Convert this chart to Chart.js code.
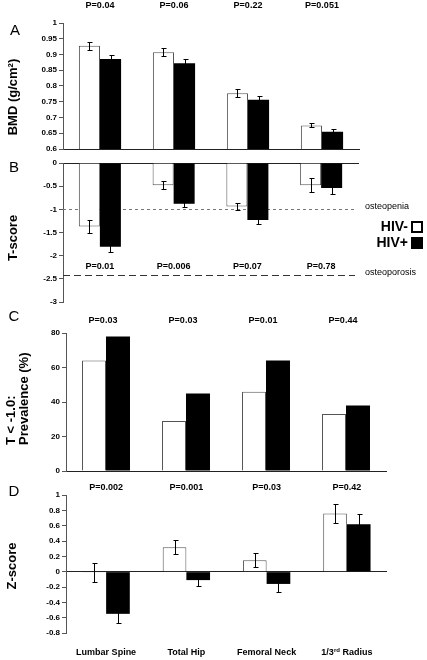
<!DOCTYPE html>
<html>
<head>
<meta charset="utf-8">
<script src="https://cdn.jsdelivr.net/npm/chart.js@4.4.1/dist/chart.umd.min.js"></script>
<style>
  html, body { margin: 0; padding: 0; background: #fff; }
  #wrap { position: relative; width: 427px; height: 660px; }
  #wrap canvas { position: absolute; left: 0; top: 0; }
</style>
</head>
<body>
<div id="wrap">
  <canvas id="chartA" width="427" height="660"></canvas>
  <canvas id="chartB" width="427" height="660"></canvas>
  <canvas id="chartC" width="427" height="660"></canvas>
  <canvas id="chartD" width="427" height="660"></canvas>
</div>
<script>
const categories = ['Lumbar Spine', 'Total Hip', 'Femoral Neck', '1/3rd Radius'];
const seriesNames = ['HIV-', 'HIV+'];

// A - BMD (g/cm2)
const bmdNeg = [0.928, 0.907, 0.777, 0.675];
const bmdPos = [0.886, 0.872, 0.756, 0.655];
const bmdNegErr = [0.013, 0.013, 0.012, 0.006];
const bmdPosErr = [0.012, 0.014, 0.012, 0.008];
const bmdP = ['P=0.04', 'P=0.06', 'P=0.22', 'P=0.051'];
const bmdTicks = [0.6, 0.65, 0.7, 0.75, 0.8, 0.85, 0.9, 0.95, 1];

// B - T-score
const tNeg = [-1.37, -0.48, -0.94, -0.48];
const tPos = [-1.81, -0.88, -1.23, -0.54];
const tNegErr = [0.13, 0.09, 0.07, 0.15];
const tPosErr = [0.12, 0.08, 0.08, 0.13];
const tP = ['P=0.01', 'P=0.006', 'P=0.07', 'P=0.78'];
const tTicks = [-3, -2.5, -2, -1.5, -1, -0.5, 0];
const refValues = [-1, -2.42];
const refNames = ['osteopenia', 'osteoporosis'];

// C - prevalence of T < -1.0
const prevNeg = [64, 29, 46, 33];
const prevPos = [78, 45, 64, 38];
const prevP = ['P=0.03', 'P=0.03', 'P=0.01', 'P=0.44'];
const prevTicks = [0, 20, 40, 60, 80];

// D - Z-score
const zNeg = [-0.01, 0.32, 0.15, 0.76];
const zPos = [-0.55, -0.11, -0.16, 0.62];
const zNegErr = [0.12, 0.09, 0.09, 0.12];
const zPosErr = [0.12, 0.08, 0.1, 0.13];
const zP = ['P=0.002', 'P=0.001', 'P=0.03', 'P=0.42'];
const zTicks = [-0.8, -0.6, -0.4, -0.2, 0, 0.2, 0.4, 0.6, 0.8, 1];

const FONT = '"Liberation Sans", Arial, sans-serif';

function rotText(ctx, text, x, y, align) {
  ctx.save();
  ctx.translate(x, y);
  ctx.rotate(-Math.PI / 2);
  ctx.textAlign = align;
  ctx.textBaseline = 'middle';
  ctx.fillText(text, 0, 0);
  ctx.restore();
}

// label text with ordinal suffix as superscript (1/3rd)
function supText(ctx, text, cx, y, size) {
  const m = text.match(/^(.*?\d)(st|nd|rd|th)(.*)$/);
  const parts = m ? [[m[1], 0], [m[2], 1], [m[3], 0]] : [[text, 0]];
  const fontFor = s => 'bold ' + (s ? Math.round(size * 0.65) : size) + 'px ' + FONT;
  let w = 0;
  parts.forEach(p => { ctx.font = fontFor(p[1]); w += ctx.measureText(p[0]).width; });
  let x = cx - w / 2;
  ctx.textAlign = 'left';
  ctx.textBaseline = 'middle';
  parts.forEach(p => {
    ctx.font = fontFor(p[1]);
    ctx.fillText(p[0], x, p[1] ? y - size * 0.35 : y);
    x += ctx.measureText(p[0]).width;
  });
}

const decor = {
  id: 'decor',
  beforeDatasetsDraw(chart, args, o) {
    const ctx = chart.ctx, ys = chart.scales.y, a = chart.chartArea;
    if (!o.refs) return;
    o.refs.forEach((v, i) => {
      const py = Math.round(ys.getPixelForValue(v)) + 0.5;
      ctx.save();
      ctx.strokeStyle = i === 0 ? '#777' : '#333';
      ctx.setLineDash(i === 0 ? [3, 3] : [7, 4]);
      ctx.lineWidth = 1;
      ctx.beginPath();
      ctx.moveTo(a.left, py);
      ctx.lineTo(a.right - 3, py);
      ctx.stroke();
      ctx.restore();
    });
  },
  afterDatasetsDraw(chart, args, o) {
    const ctx = chart.ctx, ys = chart.scales.y, xs = chart.scales.x;
    ctx.save();
    ctx.fillStyle = '#000';
    ctx.strokeStyle = '#000';
    ctx.lineWidth = 1;
    // error bars
    (o.errors || []).forEach((errs, di) => {
      const meta = chart.getDatasetMeta(di);
      meta.data.forEach((bar, i) => {
        const v = chart.data.datasets[di].data[i];
        const x = Math.round(bar.x) + 0.5;
        const hi = Math.round(ys.getPixelForValue(v + errs[i])) + 0.5;
        const lo = Math.round(ys.getPixelForValue(v - errs[i])) + 0.5;
        ctx.beginPath();
        ctx.moveTo(x, hi); ctx.lineTo(x, lo);
        ctx.moveTo(x - 2, hi); ctx.lineTo(x + 3, hi);
        ctx.moveTo(x - 2, lo); ctx.lineTo(x + 3, lo);
        ctx.stroke();
      });
    });
    // p values
    ctx.font = 'bold 9px ' + FONT;
    ctx.textAlign = 'center';
    ctx.textBaseline = 'middle';
    (o.pvals || []).forEach((p, i) => {
      ctx.fillText(p, xs.getPixelForValue(i) + (o.pdx || 0), o.pY);
    });
    // panel letter
    ctx.font = '15px ' + FONT;
    ctx.fillText(o.letter, o.letterAt[0], o.letterAt[1]);
    // y title
    ctx.font = 'bold 13px ' + FONT;
    o.title.forEach(t => rotText(ctx, t[0], t[1], t[2], t[3]));
    // reference line labels
    if (o.refs) {
      ctx.font = '9px ' + FONT;
      ctx.textAlign = 'left';
      o.refs.forEach((v, i) => {
        ctx.fillText(o.refNames[i], 365, ys.getPixelForValue(v) - 3);
      });
    }
    // legend
    if (o.legend) {
      chart.data.datasets.forEach((ds, i) => {
        const cy = o.legend[1] + i * 16;
        ctx.font = 'bold 14px ' + FONT;
        ctx.textAlign = 'right';
        ctx.fillStyle = '#000';
        ctx.fillText(ds.label, o.legend[0] - 3, cy);
        ctx.fillStyle = '#000';
        ctx.fillRect(o.legend[0], cy - 6, 12, 12);
        if (i === 0) {
          ctx.fillStyle = '#fff';
          ctx.fillRect(o.legend[0] + 2, cy - 4, 8, 8);
        }
      });
    }
    // category labels
    if (o.xLabels) {
      ctx.fillStyle = '#000';
      chart.data.labels.forEach((lab, i) => {
        supText(ctx, lab, xs.getPixelForValue(i), o.xLabels, 9);
      });
    }
    ctx.restore();
  }
};

function panel(id, c) {
  return new Chart(document.getElementById(id), {
    type: 'bar',
    data: {
      labels: categories,
      datasets: [
        { label: seriesNames[0], data: c.neg, backgroundColor: '#fff', borderColor: '#555', borderWidth: 1, borderSkipped: 'start' },
        { label: seriesNames[1], data: c.pos, backgroundColor: '#000', borderWidth: 0 }
      ]
    },
    options: {
      responsive: false,
      animation: false,
      events: [],
      layout: { autoPadding: false, padding: c.pad },
      datasets: { bar: { categoryPercentage: c.cat, barPercentage: 1 } },
      plugins: { legend: { display: false }, tooltip: { enabled: false }, decor: c.decor },
      scales: {
        x: {
          position: c.xPos || 'bottom',
          grid: { display: false },
          ticks: { display: false },
          border: { display: !c.zeroGrid, color: '#222' },
          afterFit: s => { s.height = 0; }
        },
        y: {
          min: c.ticks[0],
          max: c.ticks[c.ticks.length - 1],
          afterBuildTicks: s => { s.ticks = c.ticks.map(v => ({ value: v })); },
          ticks: {
            color: '#000',
            padding: 2,
            font: { family: FONT, size: 8, weight: 'bold' },
            callback: v => String(+(+v).toFixed(2))
          },
          grid: {
            drawOnChartArea: !!c.zeroGrid,
            color: ctx => (ctx.tick && ctx.tick.value === 0) ? '#222' : 'rgba(0,0,0,0)',
            tickColor: '#555',
            tickLength: 4
          },
          border: { color: '#555' },
          afterFit: s => { s.width = c.axisX; }
        }
      }
    },
    plugins: [decor]
  });
}

panel('chartA', {
  neg: bmdNeg, pos: bmdPos, ticks: bmdTicks, cat: 0.57, axisX: 63,
  pad: { left: 0, right: 68, top: 23, bottom: 511 },
  decor: {
    errors: [bmdNegErr, bmdPosErr], pvals: bmdP, pY: 6,
    letter: 'A', letterAt: [15, 31],
    title: [['BMD (g/cm²)', 13, 97, 'center']]
  }
});

panel('chartB', {
  neg: tNeg, pos: tPos, ticks: tTicks, cat: 0.57, axisX: 63, xPos: 'top',
  pad: { left: 0, right: 69, top: 163, bottom: 358 },
  decor: {
    errors: [tNegErr, tPosErr], pvals: tP, pY: 267,
    letter: 'B', letterAt: [14, 168],
    title: [['T-score', 13, 238, 'center']],
    refs: refValues, refNames: refNames,
    legend: [411, 227]
  }
});

panel('chartC', {
  neg: prevNeg, pos: prevPos, ticks: prevTicks, cat: 0.6, axisX: 66,
  pad: { left: 0, right: 41, top: 333, bottom: 189 },
  decor: {
    pvals: prevP, pY: 321, pdx: -3,
    letter: 'C', letterAt: [14, 317],
    title: [['T < -1.0:', 11, 445, 'left'], ['Prevalence (%)', 24, 445, 'left']]
  }
});

panel('chartD', {
  neg: zNeg, pos: zPos, ticks: zTicks, cat: 0.59, axisX: 66, zeroGrid: true,
  pad: { left: 0, right: 40, top: 495, bottom: 27 },
  decor: {
    errors: [zNegErr, zPosErr], pvals: zP, pY: 488,
    letter: 'D', letterAt: [14, 492],
    title: [['Z-score', 12, 566, 'center']],
    xLabels: 653
  }
});
</script>
</body>
</html>
